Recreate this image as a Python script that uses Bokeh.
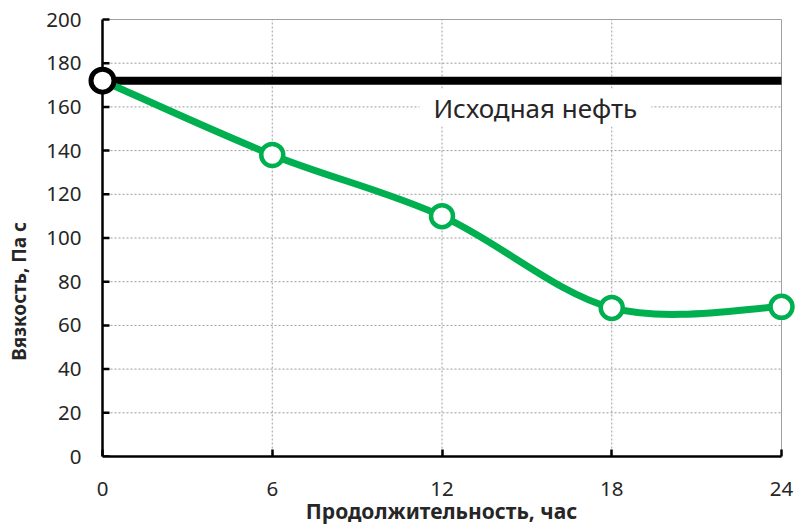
import numpy as np
from bokeh.plotting import figure
from bokeh.models import Range1d, Label, FixedTicker, LinearAxis
from bokeh.embed import file_html
from bokeh.resources import INLINE

# ---- data ----
hours = [0, 6, 12, 18, 24]
viscosity = [172, 138, 110, 68, 68.5]
initial_x = [0, 24]
initial_oil = [172, 172]
initial_label = "Исходная нефть"
x_ticks = [0, 6, 12, 18, 24]
y_ticks = [0, 20, 40, 60, 80, 100, 120, 140, 160, 180, 200]
x_title = "Продолжительность, час"
y_title = "Вязкость, Па с"

FONT = "Noto Sans"
TXT = "#262626"
GREEN = "#00B050"
GRID = "#9C9C9C"

x0, x1 = x_ticks[0], x_ticks[-1]
y0, y1 = y_ticks[0], y_ticks[-1]
px_per_x = 679 / (x1 - x0)
x_start = x0 - 15 / px_per_x
x_end = x1 + 14 / px_per_x
y_end = y1 * 439 / 437

p = figure(width=795, height=527, output_backend="svg", toolbar_location=None,
           x_range=Range1d(x_start, x_end), y_range=Range1d(y0, y_end),
           min_border_left=87, min_border_right=0, min_border_top=17,
           min_border_bottom=71)
p.outline_line_color = None
p.background_fill_color = "white"
p.border_fill_color = "white"
p.xgrid.visible = False
p.ygrid.visible = False

# grid lines (bounded by the axes)
gy = y_ticks[1:-1]
p.multi_line(xs=[[x0, x1] for _ in gy], ys=[[g, g] for g in gy],
             line_color=GRID, line_width=1, line_dash="2 2")
gx = x_ticks[1:-1]
p.multi_line(xs=[[g, g] for g in gx], ys=[[y0, y1] for _ in gx],
             line_color=GRID, line_width=1, line_dash="2 2")
# top / right border
p.segment(x0=[x0, x1], y0=[y1, y0], x1=[x1, x1], y1=[y1, y1],
          line_color="#A0A0A0", line_width=1)

# y axis rule and inward ticks at x = 0
tick_len = 7 / px_per_x
p.segment(x0=[x0] * len(y_ticks), y0=y_ticks,
          x1=[x0 + tick_len] * len(y_ticks), y1=y_ticks,
          line_color="black", line_width=2.5)
p.segment(x0=[x0], y0=[y0], x1=[x0], y1=[y1], line_color="black",
          line_width=2.5)

# smooth curve (Catmull-Rom style Bezier through the data points)
P = np.column_stack([hours, viscosity]).astype(float)
n = len(P)
bx0, by0, bx1, by1, cx0, cy0, cx1, cy1 = ([] for _ in range(8))
for i in range(n - 1):
    pm = P[i - 1] if i > 0 else P[i]
    pp = P[i + 2] if i + 2 < n else P[i + 1]
    c1 = P[i] + (P[i + 1] - pm) / 6
    c2 = P[i + 1] - (pp - P[i]) / 6
    bx0.append(P[i][0]); by0.append(P[i][1])
    bx1.append(P[i + 1][0]); by1.append(P[i + 1][1])
    cx0.append(c1[0]); cy0.append(c1[1])
    cx1.append(c2[0]); cy1.append(c2[1])

p.line(initial_x, initial_oil, line_color="black", line_width=8)
p.bezier(x0=bx0, y0=by0, x1=bx1, y1=by1, cx0=cx0, cy0=cy0, cx1=cx1, cy1=cy1,
         line_color=GREEN, line_width=7, line_cap="round")
p.scatter(hours, viscosity, size=22, fill_color="white", line_color=GREEN,
          line_width=4.5)
p.scatter(initial_x[:1], initial_oil[:1], size=23, fill_color="white",
          line_color="black", line_width=5)

# x axis
xa = p.xaxis[0]
xa.ticker = FixedTicker(ticks=x_ticks)
xa.bounds = (x0, x1)
xa.axis_line_color = "black"
xa.axis_line_width = 2.5
xa.major_tick_line_color = "black"
xa.major_tick_line_width = 2.5
xa.major_tick_in = 7
xa.major_tick_out = 0
xa.minor_tick_line_color = None
xa.major_label_text_font = FONT
xa.major_label_text_font_size = "20.5px"
xa.major_label_text_color = TXT
xa.major_label_standoff = 25
xa.axis_label = x_title
xa.axis_label_text_font = FONT
xa.axis_label_text_font_style = "bold"
xa.axis_label_text_font_size = "21px"
xa.axis_label_text_color = TXT
xa.axis_label_standoff = -2

# y axis labels (axis itself sits at frame edge; rule drawn at x=0 above)
ya = p.yaxis[0]
ya.ticker = FixedTicker(ticks=y_ticks)
ya.bounds = (y0, y1)
ya.axis_line_color = None
ya.major_tick_line_color = None
ya.minor_tick_line_color = None
ya.major_tick_in = 0
ya.major_tick_out = 0
ya.major_label_text_font = FONT
ya.major_label_text_font_size = "20.5px"
ya.major_label_text_color = TXT
ya.major_label_standoff = 6

# y title on a second, label-only axis (trailing no-break spaces shift it down)
yt = LinearAxis(ticker=FixedTicker(ticks=[]), bounds=(y0, y1),
                axis_label=y_title + "\u00a0" * 22, axis_line_color=None,
                major_tick_line_color=None, minor_tick_line_color=None,
                major_tick_in=0, major_tick_out=0,
                axis_label_text_font=FONT, axis_label_text_font_style="bold",
                axis_label_text_font_size="19px", axis_label_text_color=TXT,
                axis_label_standoff=12)
p.add_layout(yt, "left")

p.add_layout(Label(x=15.3, y=159.7, text=initial_label,
                   text_align="center", text_baseline="middle",
                   text_font=FONT, text_font_size="26px", text_color=TXT,
                   background_fill_color="white",
                   padding=dict(left=14, right=14, top=1, bottom=1)))

open("out.html", "w").write(file_html(p, INLINE))
